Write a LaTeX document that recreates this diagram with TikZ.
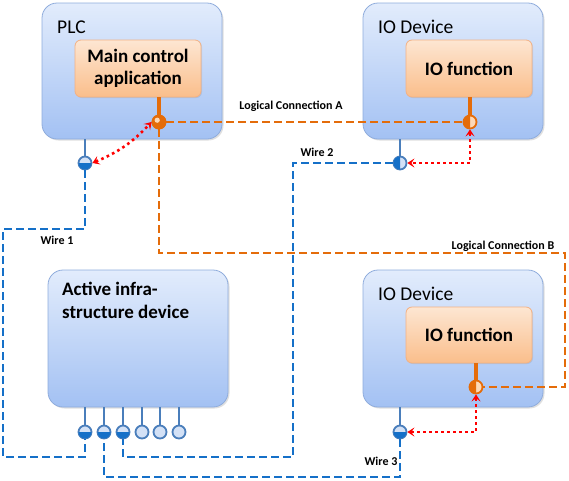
\documentclass[tikz,border=0pt]{standalone}
\usepackage{fontspec}
\setmainfont{Carlito}
\usetikzlibrary{calc,shadows,arrows.meta}
\definecolor{boxtop}{HTML}{E2ECFC}
\definecolor{boxbot}{HTML}{A3C1F3}
\definecolor{boxline}{HTML}{8FACDC}
\definecolor{functop}{HTML}{FDE6D2}
\definecolor{funcbot}{HTML}{FABE8B}
\definecolor{funcline}{HTML}{F4B183}
\definecolor{plugorange}{HTML}{E46C0A}
\definecolor{lightorange}{HTML}{FCD9B8}
\definecolor{stubblue}{HTML}{4A7EBB}
\definecolor{sockblue}{HTML}{D3E1F6}
\definecolor{wireblue}{HTML}{1570C8}
\def\plug[#1](#2)(#3:#4){\fill[#1] ($(#2)+(#3:6.5pt)$) arc[start angle=#3, end angle=#4, radius=6.5pt] -- cycle;}
\tikzset{
	device/.style={draw=boxline, line width=0.8pt, rounded corners=15pt, top color=boxtop, bottom color=boxbot,
		minimum width=180pt, minimum height=136pt, drop shadow={opacity=0.25, shadow xshift=1.5pt, shadow yshift=-1.5pt}},
	func/.style={draw=funcline, line width=0.8pt, rounded corners=6pt, top color=functop, bottom color=funcbot,
		minimum width=126pt, minimum height=57pt, align=center, font=\bfseries\fontsize{19}{22}\selectfont,
		drop shadow={opacity=0.2, shadow xshift=1pt, shadow yshift=-1pt}},
	title/.style={anchor=west, inner sep=0pt, font=\fontsize{19.5}{22}\selectfont},
	bsock/.style={circle, draw=stubblue, fill=sockblue, line width=1.8pt, minimum size=13pt, inner sep=0pt},
	osock/.style={circle, draw=plugorange, fill=lightorange, line width=1.8pt, minimum size=13pt, inner sep=0pt},
	stubb/.style={draw=stubblue, line width=2.8pt},
	stubo/.style={draw=plugorange, line width=3.4pt},
	wire/.style={draw=wireblue, line width=2.8pt, dash pattern=on 8pt off 4pt},
	logic/.style={draw=plugorange, line width=2.8pt, dash pattern=on 8pt off 4pt},
	diag/.style={draw=red, line width=2.6pt, dash pattern=on 2.6pt off 3.4pt, {Stealth[length=7pt,width=9pt,inset=3pt]}-{Stealth[length=7pt,width=9pt,inset=3pt]}},
	lbl/.style={inner sep=0pt, font=\bfseries\fontsize{12}{14}\selectfont}
}
\begin{document}
\begin{tikzpicture}[x=1pt, y=-1pt]
				\useasboundingbox (0,0) rectangle (569,480);
				
				\node[device] (plc) at (132,71) {};
				\node[title] (plctitle) at (57,27) {PLC};
				\node[func] (main) at (138,68.5) {Main control\\application};
				
				\node[device] (io1) at (453,71) {};
				\node[title] (io1title) at (378,27) {IO Device};
				\node[func] (iof1) at (469,68.5) {IO function};
				
				\node[device, minimum height=137pt] (infra) at (138,338.5) {};
				\node[title, anchor=north west, align=left, font=\bfseries\fontsize{19}{23}\selectfont] (infratitle) at (62,282) {Active infra-\\structure device};
				
				\node[device, minimum height=137pt] (io2) at (453,338.5) {};
				\node[title] (io2title) at (378,294) {IO Device};
				\node[func, minimum height=56pt] (iof2) at (469,335) {IO function};
				
				\node[osock] (plcA) at (159,122) {};
				\node[bsock] (plcW) at (85,163) {};
				\node[osock] (io1A) at (470,122) {};
				\node[bsock] (io1W) at (400,163) {};
				\node[osock] (io2B) at (476,387) {};
				\node[bsock] (io2W) at (400,432) {};
				\foreach \i/\x in {1/85,2/104,3/123,4/142,5/160,6/179}{
					\node[bsock] (p\i) at (\x,432) {};
					\draw[stubb] (p\i.north) -- (p\i.north |- infra.south);
				}
				
				\draw[stubo] (plcA.north) -- (plcA.north |- main.south);
				\draw[stubo] (io1A.north) -- (io1A.north |- iof1.south);
				\draw[stubo] (io2B.north) -- (io2B.north |- iof2.south);
				\draw[stubb] (plcW.north) -- (plcW.north |- plc.south);
				\draw[stubb] (io1W.north) -- (io1W.north |- io1.south);
				\draw[stubb] (io2W.north) -- (io2W.north |- io2.south);
				
				\draw[wire] (plcW.south) |- (3,229) |- (85,457) -- (p1.south);
				\draw[wire] (io1W.west) -| (293,457) -| (p3.south);
				\draw[wire] (io2W.south) |- (104,477) -- (p2.south);
				
				\draw[logic] (plcA.east) -- (io1A.west);
				\draw[logic] (plcA.south) |- (565,253) |- (io2B.east);
				
				\plug[wireblue](plcW)(180:360)
				\plug[wireblue](io1W)(90:270)
				\plug[wireblue](io2W)(180:360)
				\plug[wireblue](p1)(180:360)
				\plug[wireblue](p2)(180:360)
				\plug[wireblue](p3)(180:360)
				\fill[plugorange] (plcA) circle (7.4pt);
				\fill[lightorange] ($(plcA)+(-1.8pt,1.8pt)$) circle (2.6pt);
				\plug[plugorange](io1A)(90:270)
				\plug[plugorange](io2B)(90:270)
				
				\draw[diag] (plcW.east) to[bend right=12] (plcA.west);
				\draw[diag] (io1A.south) |- (io1W.east);
				\draw[diag] (io2B.south) |- (io2W.east);
				
				\node[lbl] (lblA) at (291,106) {Logical Connection A};
				\node[lbl] (lblB) at (503,246) {Logical Connection B};
				\node[lbl] (w1) at (57,240) {Wire 1};
				\node[lbl] (w2) at (317,152) {Wire 2};
				\node[lbl] (w3) at (381,461) {Wire 3};
\end{tikzpicture}
\end{document}
